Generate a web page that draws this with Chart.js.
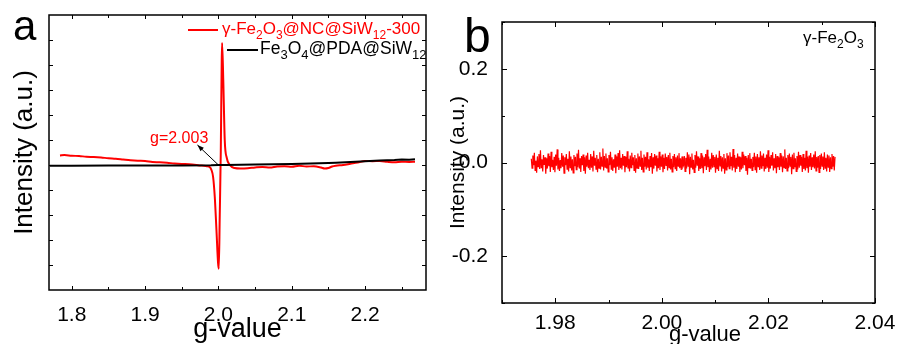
<!DOCTYPE html>
<html lang="en">
<head>
<meta charset="UTF-8">
<title>EPR spectra</title>
<script src="https://cdn.jsdelivr.net/npm/chart.js"></script>
<style>
  body { margin: 0; background: #fff; }
  #wrap { position: relative; width: 898px; height: 344px; }
  canvas { position: absolute; top: 0; }
</style>
</head>
<body>
<div id="wrap">
  <canvas id="chartA" width="450" height="344" style="left:0"></canvas>
  <canvas id="chartB" width="448" height="344" style="left:450px"></canvas>
</div>
<script>
const FONT = '"Liberation Sans", Arial, sans-serif';

// panel a - EPR spectra (arbitrary intensity units)
const redG = [1.784, 1.79, 1.80, 1.81, 1.82, 1.83, 1.84, 1.85, 1.86, 1.87, 1.88, 1.89, 1.90, 1.91, 1.92,
  1.93, 1.94, 1.95, 1.96, 1.97, 1.975, 1.98, 1.984, 1.988, 1.9905, 1.9927, 1.995, 1.9973, 1.9995, 2.0005,
  2.0018, 2.0032, 2.0045, 2.005, 2.0066, 2.0086, 2.0114, 2.0155, 2.022, 2.03, 2.04, 2.05, 2.06, 2.07,
  2.08, 2.09, 2.10, 2.11, 2.12, 2.13, 2.14, 2.145, 2.15, 2.155, 2.16, 2.17, 2.18, 2.19, 2.20, 2.21,
  2.22, 2.23, 2.24, 2.25, 2.26, 2.268];
const redI = [0.38, 0.40, 0.37, 0.36, 0.33, 0.32, 0.30, 0.27, 0.25, 0.22, 0.19, 0.17, 0.16, 0.12, 0.11,
  0.09, 0.06, 0.04, 0.03, 0.00, -0.02, -0.03, -0.05, -0.08, -0.2, -0.47, -1.27, -2.6, -3.92, -4.15,
  -2.0, 0.5, 4.2, 4.88, 3.4, 1.0, 0.28, 0.0, -0.12, -0.14, -0.13, -0.1, -0.08, -0.1,
  -0.06, -0.05, -0.07, -0.03, -0.06, -0.05, -0.1, -0.14, -0.12, -0.06, -0.03, 0.0, 0.05, 0.1, 0.16, 0.15,
  0.16, 0.13, 0.11, 0.13, 0.12, 0.13];
const blackG = [1.77, 1.80, 1.85, 1.90, 1.95, 1.99, 2.0, 2.01, 2.05, 2.10, 2.15, 2.16, 2.18, 2.20, 2.22, 2.24, 2.25, 2.26, 2.268];
const blackI = [-0.03, -0.03, -0.02, -0.02, -0.02, -0.01, 0.0, 0.0, 0.02, 0.04, 0.08, 0.09, 0.12, 0.15, 0.18, 0.2, 0.22, 0.21, 0.23];
const aXTicks = [1.8, 1.85, 1.9, 1.95, 2.0, 2.05, 2.1, 2.15, 2.2, 2.25];
const aXLabels = [1.8, 1.9, 2.0, 2.1, 2.2];
const aYTicks = [-4, -3, -2, -1, 0, 1, 2, 3, 4, 5];

// panel b - gamma-Fe2O3 alone, noise only
const bStart = 1.9755, bEnd = 2.0325;
const bNoise = [
  0.008, -0.012, 0.015, -0.006, 0.021, -0.017, 0.004, -0.022, 0.013, -0.009,
  0.018, -0.014, 0.026, -0.011, 0.007, -0.019, 0.016, -0.005, 0.011, -0.024,
  0.009, -0.013, 0.019, -0.008, 0.014, -0.02, 0.023, -0.01, 0.006, -0.016,
  0.012, -0.021, 0.017, -0.007, 0.028, -0.015, 0.01, -0.018, 0.005, -0.012,
  0.02, -0.009, 0.015, -0.023, 0.011, -0.006, 0.018, -0.014, 0.008, -0.019,
  0.024, -0.011, 0.013, -0.017, 0.007, -0.022, 0.016, -0.008, 0.012, -0.015,
  0.019, -0.01, 0.027, -0.013, 0.009, -0.02, 0.014, -0.006, 0.017, -0.018,
  0.011, -0.024, 0.015, -0.009, 0.021, -0.012, 0.006, -0.016, 0.018, -0.011,
  0.013, -0.019, 0.025, -0.007, 0.01, -0.014, 0.016, -0.021, 0.008, -0.012,
  0.022, -0.015, 0.012, -0.008, 0.03, -0.017, 0.014, -0.01, 0.019, -0.013,
  0.009, -0.02, 0.016, -0.006, 0.023, -0.014, 0.011, -0.018, 0.007, -0.011,
  0.017, -0.023, 0.013, -0.009, 0.02, -0.016, 0.026, -0.012, 0.01, -0.015,
  0.018, -0.007, 0.014, -0.021, 0.012, -0.01, 0.024, -0.013, 0.008, -0.019,
  0.015, -0.011, 0.021, -0.006, 0.011, -0.017, 0.016, -0.022, 0.009, -0.012,
  0.019, -0.014, 0.013, -0.008, 0.025, -0.016, 0.01, -0.02, 0.017, -0.009,
  0.012, -0.015, 0.022, -0.011, 0.007, -0.018, 0.014, -0.01, 0.02, -0.024,
  0.011, -0.013, 0.018, -0.007, 0.015, -0.019, 0.009, -0.012, 0.023, -0.016,
  0.013, -0.009, 0.017, -0.021, 0.01, -0.014, 0.019, -0.006, 0.012, -0.017,
  0.016, -0.011, 0.021, -0.015, 0.008, -0.02, 0.014, -0.01, 0.018, -0.013,
  0.011, -0.018, 0.015, -0.008, 0.02, -0.012, 0.009, -0.016, 0.013, -0.01,
  -0.006, 0.014, -0.019, 0.01, -0.013, 0.022, -0.008, 0.017, -0.025, 0.012,
  -0.01, 0.019, -0.015, 0.006, -0.021, 0.016, -0.011, 0.024, -0.007, 0.013,
  -0.018, 0.009, -0.014, 0.02, -0.012, 0.015, -0.023, 0.011, -0.008, 0.018,
  -0.016, 0.027, -0.01, 0.013, -0.02, 0.008, -0.015, 0.021, -0.011, 0.016,
  -0.009, 0.012, -0.022, 0.017, -0.013, 0.01, -0.018, 0.025, -0.007, 0.014,
  -0.019, 0.011, -0.012, 0.018, -0.024, 0.009, -0.016, 0.02, -0.01, 0.015,
  -0.013, 0.022, -0.008, 0.012, -0.017, 0.029, -0.011, 0.016, -0.021, 0.01,
  -0.014, 0.019, -0.009, 0.013, -0.02, 0.011, -0.015, 0.023, -0.012, 0.017,
  -0.006, 0.014, -0.018, 0.01, -0.026, 0.016, -0.011, 0.02, -0.013, 0.008,
  -0.017, 0.012, -0.01, 0.021, -0.015, 0.013, -0.022, 0.018, -0.009, 0.011,
  -0.016, 0.024, -0.012, 0.015, -0.008, 0.019, -0.019, 0.01, -0.014, 0.017,
  -0.011, 0.026, -0.02, 0.012, -0.013, 0.016, -0.007, 0.022, -0.017, 0.009,
  -0.012, 0.018, -0.023, 0.014, -0.01, 0.011, -0.016, 0.02, -0.009, 0.015,
  -0.021, 0.013, -0.011, 0.028, -0.014, 0.01, -0.018, 0.016, -0.012, 0.019,
  -0.008, 0.012, -0.025, 0.017, -0.013, 0.021, -0.01, 0.009, -0.019, 0.014,
  -0.015, 0.023, -0.011, 0.016, -0.007, 0.012, -0.02, 0.018, -0.014, 0.01,
  -0.017, 0.025, -0.012, 0.013, -0.022, 0.015, -0.009, 0.02, -0.016, 0.011,
  -0.01, 0.017, -0.013, 0.024, -0.018, 0.012, -0.011, 0.014, -0.021, 0.016,
  -0.014, 0.019, -0.008, 0.013, -0.016, 0.022, -0.012, 0.01, -0.019, 0.017,
  -0.01, 0.015, -0.02, 0.011, -0.013, 0.018, -0.009, 0.014, -0.017, 0.012
];
const bXTicks = [1.97, 1.98, 1.99, 2.00, 2.01, 2.02, 2.03, 2.04];
const bXLabels = [1.98, 2.00, 2.02, 2.04];
const bYTicks = [-0.3, -0.2, -0.1, 0, 0.1, 0.2, 0.3];
const bYLabels = [-0.2, 0, 0.2];

function has(list, v) { return list.some(t => Math.abs(t - v) < 1e-9); }
function toPoints(xs, ys) { return xs.map((x, i) => ({ x: x, y: ys[i] })); }

// draws text with subscripts: parts = [[text, isSub], ...]
function drawRich(ctx, parts, x, y, size, color) {
  ctx.fillStyle = color;
  ctx.textBaseline = 'alphabetic';
  ctx.textAlign = 'left';
  parts.forEach(p => {
    const s = p[1] ? Math.round(size * 0.72) : size;
    ctx.font = s + 'px ' + FONT;
    ctx.fillText(p[0], x, p[1] ? y + size * 0.3 : y);
    x += ctx.measureText(p[0]).width;
  });
}

function vText(ctx, text, x, y, size) {
  ctx.save();
  ctx.translate(x, y);
  ctx.rotate(-Math.PI / 2);
  ctx.font = size + 'px ' + FONT;
  ctx.fillStyle = '#000';
  ctx.textAlign = 'center';
  ctx.textBaseline = 'middle';
  ctx.fillText(text, 0, 0);
  ctx.restore();
}

// box frame with inward ticks on all four sides
const frame = {
  id: 'frame',
  afterDraw(chart, args, o) {
    const { ctx, chartArea: a, scales: { x, y } } = chart;
    ctx.save();
    ctx.strokeStyle = '#000';
    ctx.lineWidth = 1.5;
    ctx.strokeRect(a.left, a.top, a.right - a.left, a.bottom - a.top);
    ctx.lineWidth = 1;
    ctx.beginPath();
    x.ticks.forEach(t => {
      const px = Math.round(x.getPixelForValue(t.value)) + 0.5;
      const len = has(o.xMajor, t.value) ? o.major : o.minor;
      ctx.moveTo(px, a.bottom); ctx.lineTo(px, a.bottom - len);
      ctx.moveTo(px, a.top); ctx.lineTo(px, a.top + len);
    });
    y.ticks.forEach(t => {
      const py = Math.round(y.getPixelForValue(t.value)) + 0.5;
      const len = has(o.yMajor, t.value) ? o.major : o.minor;
      ctx.moveTo(a.left, py); ctx.lineTo(a.left + len, py);
      ctx.moveTo(a.right, py); ctx.lineTo(a.right - len, py);
    });
    ctx.stroke();
    ctx.restore();
  }
};

const notesA = {
  id: 'notesA',
  afterDraw(chart) {
    const { ctx, chartArea: a, scales: { x, y } } = chart;
    ctx.save();
    ctx.font = '42px ' + FONT;
    ctx.fillStyle = '#000';
    ctx.fillText('a', 13, 40);

    // legend
    ctx.lineWidth = 2;
    ctx.strokeStyle = '#ff0000';
    ctx.beginPath(); ctx.moveTo(188, 30); ctx.lineTo(218, 30); ctx.stroke();
    drawRich(ctx, [['γ-Fe', 0], ['2', 1], ['O', 0], ['3', 1], ['@NC@SiW', 0], ['12', 1], ['-300', 0]], 222, 34, 17, '#ff0000');
    ctx.strokeStyle = '#000';
    ctx.beginPath(); ctx.moveTo(227, 50); ctx.lineTo(258, 50); ctx.stroke();
    drawRich(ctx, [['Fe', 0], ['3', 1], ['O', 0], ['4', 1], ['@PDA@SiW', 0], ['12', 1]], 260, 54, 17.5, '#000');

    // g=2.003 annotation with arrow
    drawRich(ctx, [['g=2.003', 0]], 150, 143, 16, '#ff0000');
    const x0 = x.getPixelForValue(2.0), y0 = y.getPixelForValue(0);
    const x1 = x0 - 21, y1 = y0 - 20;
    ctx.strokeStyle = '#000';
    ctx.fillStyle = '#000';
    ctx.lineWidth = 1;
    ctx.beginPath(); ctx.moveTo(x0, y0); ctx.lineTo(x1, y1); ctx.stroke();
    const ang = Math.atan2(y1 - y0, x1 - x0);
    ctx.beginPath();
    ctx.moveTo(x1, y1);
    ctx.lineTo(x1 - 7 * Math.cos(ang - 0.35), y1 - 7 * Math.sin(ang - 0.35));
    ctx.lineTo(x1 - 7 * Math.cos(ang + 0.35), y1 - 7 * Math.sin(ang + 0.35));
    ctx.closePath(); ctx.fill();

    // axis titles
    ctx.font = '27px ' + FONT;
    ctx.fillStyle = '#000';
    ctx.textAlign = 'center';
    ctx.textBaseline = 'alphabetic';
    ctx.fillText('g-value', (a.left + a.right) / 2, 337);
    vText(ctx, 'Intensity (a.u.)', 25, (a.top + a.bottom) / 2, 26);
    ctx.restore();
  }
};

const notesB = {
  id: 'notesB',
  afterDraw(chart) {
    const { ctx, chartArea: a } = chart;
    ctx.save();
    ctx.font = '48px ' + FONT;
    ctx.fillStyle = '#000';
    ctx.fillText('b', 14, 52);
    drawRich(ctx, [['γ-Fe', 0], ['2', 1], ['O', 0], ['3', 1]], 353, 43, 17, '#000');
    ctx.font = '22px ' + FONT;
    ctx.fillStyle = '#000';
    ctx.textAlign = 'center';
    ctx.fillText('g-value', 255, 341);
    vText(ctx, 'Intensity (a.u.)', 8, (a.top + a.bottom) / 2, 21);
    ctx.restore();
  }
};

new Chart(document.getElementById('chartA'), {
  type: 'line',
  data: {
    datasets: [
      { data: toPoints(blackG, blackI), borderColor: '#000', borderWidth: 2, pointRadius: 0, order: 0 },
      { data: toPoints(redG, redI), borderColor: '#ff0000', borderWidth: 2, pointRadius: 0,
        cubicInterpolationMode: 'monotone', order: 1 }
    ]
  },
  options: {
    responsive: false,
    animation: false,
    devicePixelRatio: 1,
    layout: { padding: { left: 0, top: 15, right: 24, bottom: 0 } },
    plugins: {
      legend: { display: false },
      tooltip: { enabled: false },
      frame: { xMajor: aXLabels, yMajor: aYTicks, major: 4, minor: 3 }
    },
    scales: {
      x: {
        type: 'linear', min: 1.769, max: 2.283,
        grid: { display: false }, border: { display: false },
        afterBuildTicks: s => { s.ticks = aXTicks.map(v => ({ value: v })); },
        afterFit: s => { s.height = 54; },
        ticks: {
          padding: 5, color: '#000', font: { family: FONT, size: 21 },
          callback: v => has(aXLabels, v) ? v.toFixed(1) : ''
        }
      },
      y: {
        min: -5, max: 6,
        grid: { display: false }, border: { display: false },
        afterBuildTicks: s => { s.ticks = aYTicks.map(v => ({ value: v })); },
        afterFit: s => { s.width = 49; },
        ticks: { callback: () => '' }
      }
    }
  },
  plugins: [frame, notesA]
});

new Chart(document.getElementById('chartB'), {
  type: 'line',
  data: {
    datasets: [{
      data: bNoise.map((v, i) => ({ x: bStart + i * (bEnd - bStart) / (bNoise.length - 1), y: v })),
      borderColor: '#ff0000', borderWidth: 1.2, pointRadius: 0
    }]
  },
  options: {
    responsive: false,
    animation: false,
    devicePixelRatio: 1,
    layout: { padding: { left: 0, top: 22, right: 23, bottom: 0 } },
    plugins: {
      legend: { display: false },
      tooltip: { enabled: false },
      frame: { xMajor: bXLabels, yMajor: bYLabels, major: 5, minor: 3 }
    },
    scales: {
      x: {
        type: 'linear', min: 1.97, max: 2.04,
        grid: { display: false }, border: { display: false },
        afterBuildTicks: s => { s.ticks = bXTicks.map(v => ({ value: v })); },
        afterFit: s => { s.height = 41; },
        ticks: {
          padding: 0, color: '#000', font: { family: FONT, size: 21 },
          callback: v => has(bXLabels, v) ? v.toFixed(2) : ''
        }
      },
      y: {
        min: -0.3, max: 0.3,
        grid: { display: false }, border: { display: false },
        afterBuildTicks: s => { s.ticks = bYTicks.map(v => ({ value: v })); },
        afterFit: s => { s.width = 52; },
        ticks: {
          padding: 6, color: '#000', font: { family: FONT, size: 21 },
          callback: v => has(bYLabels, v) ? v.toFixed(1) : ''
        }
      }
    }
  },
  plugins: [frame, notesB]
});
</script>
</body>
</html>
